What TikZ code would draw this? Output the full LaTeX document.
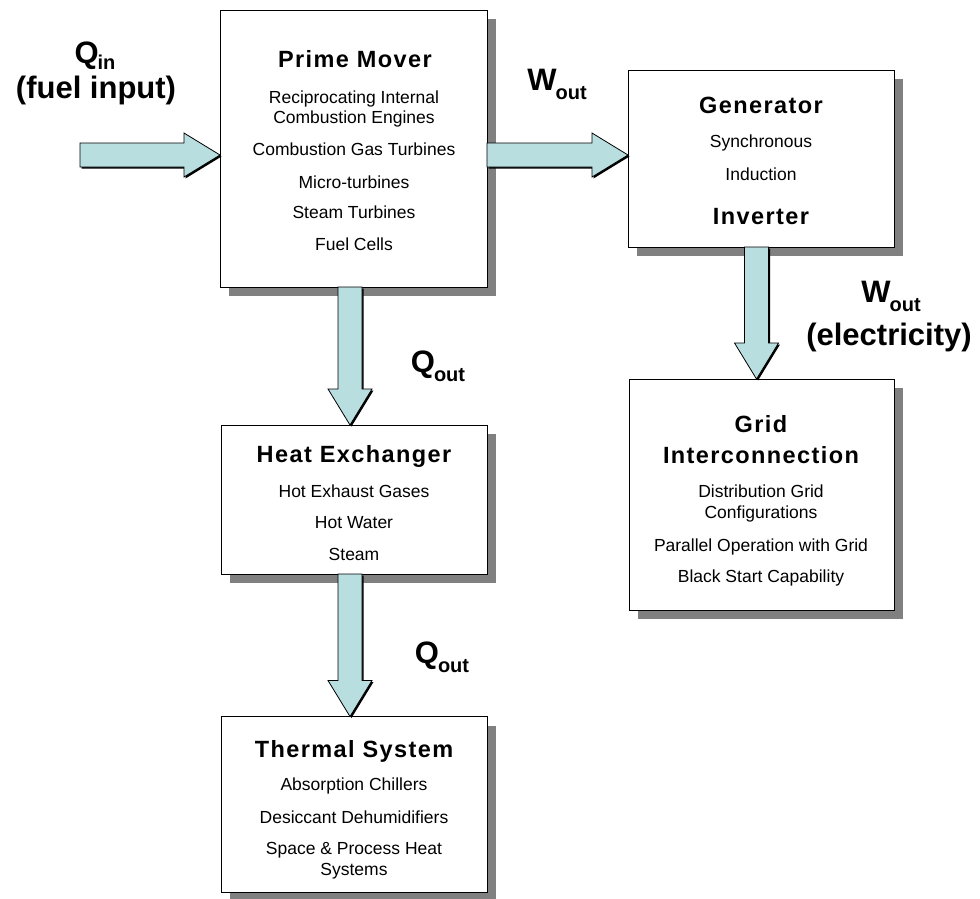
\documentclass[tikz,border=0pt]{standalone}
\usepackage{fontspec}
\setmainfont{Liberation Sans}
\newfontfamily\spacedfont{Liberation Sans}[LetterSpace=6]
\usetikzlibrary{calc}
\usetikzlibrary{shadows}
\definecolor{flowfill}{RGB}{184,222,224}
\definecolor{boxshadow}{RGB}{128,128,128}
\newcommand{\flowsub}[3][9pt]{#2\kern-1pt\lower#1\hbox{\fontsize{20}{20}\selectfont #3}}

\tikzset{
    block/.style={draw=black, fill=white, line width=0.8pt, inner sep=0pt, outer sep=0pt,
        drop shadow={shadow xshift=9pt, shadow yshift=-9pt, fill=boxshadow, opacity=1}},
    heading/.style={anchor=base, inner sep=0pt, font=\spacedfont\bfseries\fontsize{23.5}{23.5}\selectfont},
    item/.style={anchor=base, inner sep=0pt, font=\fontsize{17.5}{17.5}\selectfont},
    flowlabel/.style={anchor=base, inner sep=0pt, font=\bfseries\fontsize{31}{31}\selectfont},
    flow/.style={draw=black, line width=0.8pt, fill=flowfill, line join=miter,
        drop shadow={shadow xshift=1.5pt, shadow yshift=-1.5pt, fill=black, opacity=1}},
    hflow/.style={flow, to path={-- ($(\tikztostart)+(0,-12)$) -- ($(\tikztotarget)+(-36,-12)$)
        -- ($(\tikztotarget)+(-36,-22)$) -- (\tikztotarget) -- ($(\tikztotarget)+(-36,22)$)
        -- ($(\tikztotarget)+(-36,12)$) -- ($(\tikztostart)+(0,12)$) -- cycle}},
    vflow/.style={flow, to path={-- ($(\tikztostart)+(12,0)$) -- ($(\tikztotarget)+(12,-36)$)
        -- ($(\tikztotarget)+(22,-36)$) -- (\tikztotarget) -- ($(\tikztotarget)+(-22,-36)$)
        -- ($(\tikztotarget)+(-12,-36)$) -- ($(\tikztostart)+(-12,0)$) -- cycle}}
}

\begin{document}
\begin{tikzpicture}[x=1pt, y=-1pt]
    \useasboundingbox (0,0) rectangle (980,898);

    % boxes
    \node[block, minimum width=267pt, minimum height=277pt] (primemover) at (353.5,148.5) {};
    \node[block, minimum width=266pt, minimum height=177pt] (generator) at (761,158.5) {};
    \node[block, minimum width=266pt, minimum height=149pt] (heatx) at (354,499.5) {};
    \node[block, minimum width=265pt, minimum height=231pt] (grid) at (761.5,494.5) {};
    \node[block, minimum width=266pt, minimum height=176pt] (thermal) at (354,804.5) {};

    % box texts
    \node[heading] (pm-title) at (355,67) {Prime Mover};
    \foreach \y/\t in {103/Reciprocating Internal, 123/Combustion Engines,
        155/Combustion Gas Turbines, 188/Micro-turbines, 218/Steam Turbines, 250/Fuel Cells}
        \node[item] (pm-\y) at (354,\y) {\t};

    \node[heading] (gen-title) at (761,113) {Generator};
    \foreach \y/\t in {147/Synchronous, 180/Induction}
        \node[item] (gen-\y) at (761,\y) {\t};
    \node[heading] (gen-inv) at (761,224) {Inverter};

    \node[heading] (hx-title) at (354,462) {Heat Exchanger};
    \foreach \y/\t in {497/Hot Exhaust Gases, 528/Hot Water, 560/Steam}
        \node[item] (hx-\y) at (354,\y) {\t};

    \node[heading] (grid-title) at (761,432) {Grid};
    \node[heading] (grid-title2) at (761,463) {Interconnection};
    \foreach \y/\t in {497/Distribution Grid, 518/Configurations,
        551/Parallel Operation with Grid, 582/Black Start Capability}
        \node[item] (grid-\y) at (761,\y) {\t};

    \node[heading] (th-title) at (354,757) {Thermal System};
    \foreach \y/\t in {790/Absorption Chillers, 823/Desiccant Dehumidifiers,
        854/Space \& Process Heat, 875/Systems}
        \node[item] (th-\y) at (354,\y) {\t};

    % flow arrows
    \coordinate (fuelin) at (80,155);
    \coordinate (pmin) at (primemover.west |- fuelin);
    \coordinate (pmright) at (primemover.east |- fuelin);
    \coordinate (genin) at (generator.west |- fuelin);
    \coordinate (pmdown) at ([xshift=-3.5pt]primemover.south);
    \coordinate (hxin) at ([xshift=-4pt]heatx.north);
    \coordinate (hxdown) at ([xshift=-4pt]heatx.south);
    \coordinate (thin) at ([xshift=-4pt]thermal.north);
    \coordinate (gendown) at ([xshift=-4.5pt]generator.south);
    \coordinate (gridin) at ([xshift=-5pt]grid.north);

    \draw[hflow] (fuelin) to (pmin);
    \draw[hflow] (pmright) to (genin);
    \draw[vflow] (pmdown) to (hxin);
    \draw[vflow] (hxdown) to (thin);
    \draw[vflow] (gendown) to (gridin);

    % flow labels
    \node[flowlabel] (qin) at (95,63) {\flowsub[6pt]{Q}{in}};
    \node[flowlabel] (fuel) at (96,98) {(fuel input)};
    \node[flowlabel] (wout) at (557,90) {\flowsub{W}{out}};
    \node[flowlabel] (qout) at (438,372) {\flowsub{Q}{out}};
    \node[flowlabel] (qout2) at (442,663) {\flowsub{Q}{out}};
    \node[flowlabel] (welec) at (891,302) {\flowsub{W}{out}};
    \node[flowlabel] (elec) at (889,345) {(electricity)};
\end{tikzpicture}
\end{document}
